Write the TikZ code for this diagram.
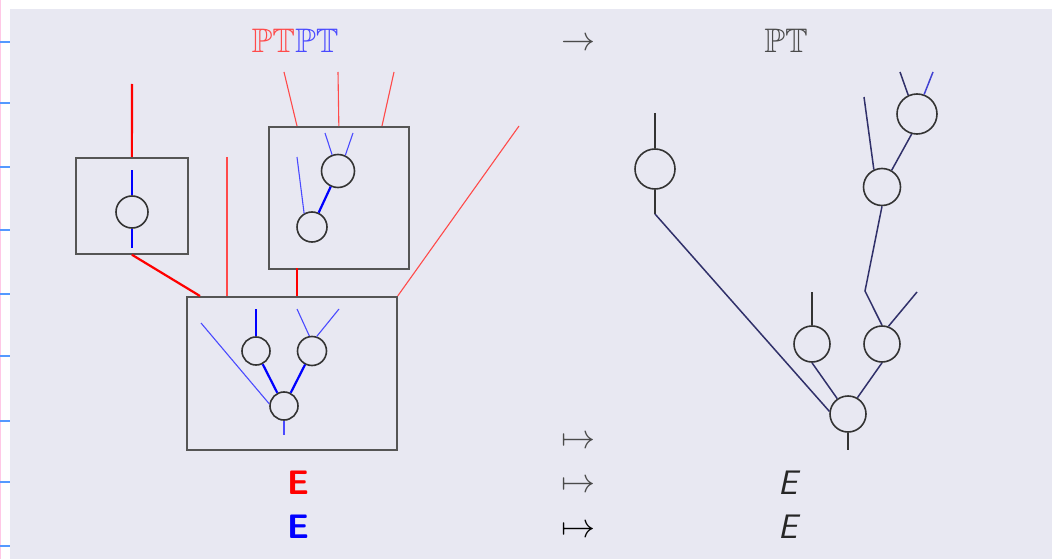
\RequirePackage{fix-cm}
\documentclass[tikz,border=0pt]{standalone}
\usepackage{amssymb}
\definecolor{bgc}{HTML}{E8E8F2}
\definecolor{rlight}{HTML}{FF4A4A}
\definecolor{blight}{HTML}{4A4AFF}
\definecolor{navytwo}{HTML}{30306A}
\definecolor{boxgray}{HTML}{555555}
\definecolor{tickc}{HTML}{5599FF}
\definecolor{pinkc}{HTML}{FFC8E6}
\definecolor{txtgray}{HTML}{4A4A4A}
\tikzset{
  circ/.style={circle, draw=black!80, line width=1.6pt, inner sep=0pt, minimum size=#1},
  boxst/.style={draw=boxgray, line width=1.7pt, inner sep=0pt, anchor=north west},
  rthick/.style={red, line width=2.2pt},
  rthin/.style={rlight, line width=1.1pt},
  bthick/.style={blue, line width=2.2pt},
  bthin/.style={blight, line width=1.1pt},
  tlink/.style={navytwo, line width=1.5pt},
  tstub/.style={black!80, line width=1.5pt},
  big/.style={font=\fontsize{34}{40}\selectfont, inner sep=0pt},
  tickst/.style={tickc, line width=2pt}
}
\begin{document}
\begin{tikzpicture}[x=1pt,y=-1pt]
\useasboundingbox (0,0) rectangle (1052,559);
\fill[white] (0,0) rectangle (1052,559);
\fill[bgc] (10,9.5) rectangle (1052,559);
\draw[pinkc, line width=1pt] (0.5,0) -- (0.5,559);
\foreach \yy in {42,103,167,230,294,356,421,482,546}{
  \draw[tickst] (0,\yy) -- (10,\yy);
}

% ---------- left: boxes ----------
\node[boxst, minimum width=112pt, minimum height=96pt] (A) at (75,157) {};
\node[boxst, minimum width=140pt, minimum height=142pt] (B) at (268,126) {};
\node[boxst, minimum width=210pt, minimum height=153pt] (C) at (186,296) {};

% box A content
\node[circ=32pt] (a1) at (132,212) {};
\coordinate (a1t) at (132,170);
\coordinate (a1b) at (132,248);
\draw[bthick] (a1t) -- (a1.north);
\draw[bthick] (a1.south) -- (a1b);

% box B content
\node[circ=33pt] (b1) at (338,171) {};
\node[circ=30pt] (b2) at (312,227) {};
\coordinate (b1l) at (325,133);
\coordinate (b1r) at (353,133);
\coordinate (b2l) at (297,157);
\draw[bthin] (b1l) -- (b1.110);
\draw[bthin] (b1r) -- (b1.65);
\draw[bthin] (b2l) -- (b2.120);
\draw[bthick] (b2) -- (b1);

% box C content
\node[circ=28pt] (c1) at (256,351) {};
\node[circ=29pt] (c2) at (312,351) {};
\node[circ=28pt] (c3) at (284,406) {};
\coordinate (c1t) at (256,309);
\coordinate (c2l) at (297,309);
\coordinate (c2r) at (339,309);
\coordinate (c3l) at (201,323);
\coordinate (c3b) at (284,435);
\draw[bthick] (c1t) -- (c1.north);
\draw[bthin] (c2l) -- (c2.100);
\draw[bthin] (c2r) -- (c2.72);
\draw[bthin] (c3l) -- (c3.172);
\draw[bthick] (c1) -- (c3);
\draw[bthick] (c2) -- (c3);
\draw[bthin] (c3.south) -- (c3b);

% red wires
\coordinate (ra) at (132,84);
\draw[rthick] (ra) -- (A.north);
\coordinate (rb1) at (284,72);
\coordinate (rb1e) at (297,126);
\coordinate (rb2) at (338,72);
\coordinate (rb3) at (394,72);
\coordinate (rb3e) at (382,126);
\draw[rthin] (rb1) -- (rb1e);
\draw[rthin] (rb2) -- (B.north);
\draw[rthin] (rb3) -- (rb3e);
\coordinate (Ct1) at (200,296);
\coordinate (Ct2) at (227,296);
\coordinate (Ct3) at (297,296);
\coordinate (Bs) at (297,268);
\coordinate (rv) at (227,157);
\coordinate (rl) at (519,126);
\draw[rthick] (A.south) -- (Ct1);
\draw[rthin] (rv) -- (Ct2);
\draw[rthick] (Bs) -- (Ct3);
\draw[rthin] (rl) -- (C.north east);

% ---------- right tree ----------
\node[circ=40pt] (R1) at (655,169) {};
\node[circ=37pt] (R3) at (882,187) {};
\node[circ=40pt] (R4) at (917,114) {};
\node[circ=36pt] (R5) at (812,344) {};
\node[circ=36pt] (R6) at (882,344) {};
\node[circ=36pt] (R7) at (848,414) {};
\coordinate (R1t) at (655,113);
\coordinate (R1k) at (655,214);
\coordinate (R5t) at (812,292);
\coordinate (R6r) at (917,292);
\coordinate (R6k) at (865,291);
\coordinate (R3l) at (864,97);
\coordinate (R4l) at (900,72);
\coordinate (R4r) at (933,72);
\coordinate (R7b) at (848,450);
\draw[tstub] (R1t) -- (R1.north);
\draw[tstub] (R1.south) -- (R1k);
\draw[tlink] (R1k) -- (R7.172);
\draw[tstub] (R5t) -- (R5.north);
\draw[tlink] (R5.south) -- (R7.125);
\draw[tlink] (R6.south) -- (R7.60);
\draw[tlink] (R6.70) -- (R6r);
\draw[tlink] (R6.north) -- (R6k) -- (R3.south);
\draw[tlink] (R3l) -- (R3.115);
\draw[tlink] (R3.60) -- (R4.255);
\draw[tlink] (R4l) -- (R4.115);
\draw[blight!70!navytwo, line width=1.5pt] (R4r) -- (R4.70);
\draw[tstub] (R7.south) -- (R7b);

% ---------- texts ----------
\node[big] (ptpt) at (295,41) {$\color{rlight}\mathbb{PT}\color{blight}\mathbb{PT}$};
\node[big, text=txtgray] (arr) at (578,44) {$\rightarrow$};
\node[big, text=txtgray] (pt) at (786,41) {$\mathbb{PT}$};
\node[big, text=txtgray] (m1) at (578,442) {$\mapsto$};
\node[big, text=txtgray] (m2) at (578,486) {$\mapsto$};
\node[big, text=black] (m3) at (578,531) {$\mapsto$};
\node[big, text=red] (e1) at (298,483) {\sffamily\bfseries E};
\node[big, text=blue] (e2) at (298,527) {\sffamily\bfseries E};
\node[big, text=black!85] (e3) at (788,483) {\sffamily\itshape E};
\node[big, text=black!85] (e4) at (788,527) {\sffamily\itshape E};
\end{tikzpicture}
\end{document}
